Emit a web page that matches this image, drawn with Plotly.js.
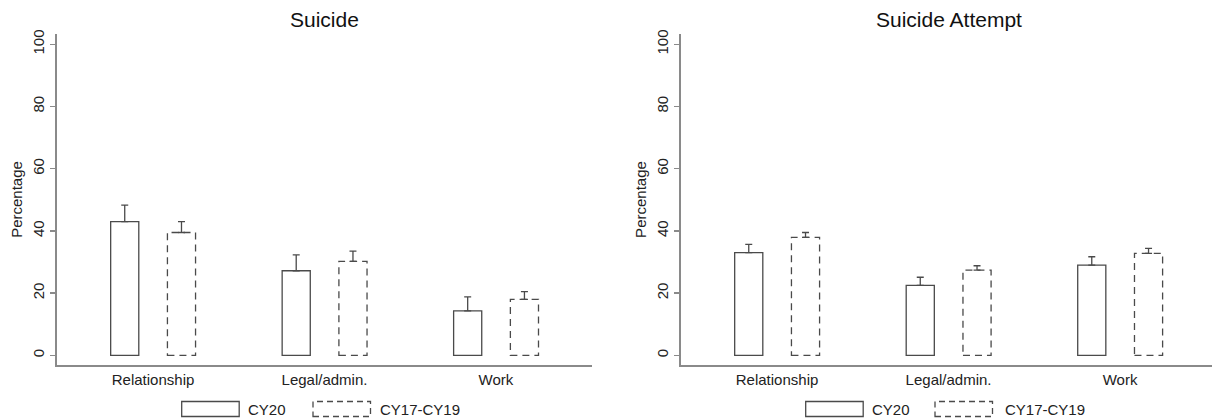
<!DOCTYPE html>
<html>
<head>
<meta charset="utf-8">
<script src="https://cdn.plot.ly/plotly-3.0.1.min.js"></script>
<style>
  html, body { margin: 0; padding: 0; background: #fff; }
  #chart { width: 1212px; height: 419px; }
</style>
</head>
<body>
<div id="chart"></div>
<script>
// ---- Data ----
const categories = ['Relationship', 'Legal/admin.', 'Work'];
const seriesNames = ['CY20', 'CY17-CY19'];
const panelTitles = ['Suicide', 'Suicide Attempt'];

const suicideCY20 = [43.0, 27.2, 14.3];
const suicideCY20Upper = [48.3, 32.3, 18.8];
const suicideCY1719 = [39.5, 30.2, 18.0];
const suicideCY1719Upper = [43.0, 33.5, 20.5];

const attemptCY20 = [33.0, 22.5, 29.0];
const attemptCY20Upper = [35.7, 25.1, 31.7];
const attemptCY1719 = [37.9, 27.4, 32.8];
const attemptCY1719Upper = [39.5, 28.8, 34.4];

const yTicks = [0, 20, 40, 60, 80, 100];

// ---- Styling ----
const FONT = 'Liberation Sans, Arial, sans-serif';
const OUTLINE = '#4a4a4a';
const AXIS = '#8a8a8a';
const BAR_W = 0.164;
const OFF_A = -0.247;
const OFF_B = 0.084;

function errs(vals, upper) { return upper.map((u, i) => u - vals[i]); }
function zeros(n) { return new Array(n).fill(0); }

function solidTrace(vals, upper, xa, ya) {
  return {
    type: 'bar', x: categories, y: vals, name: seriesNames[0],
    xaxis: xa, yaxis: ya, width: BAR_W, offset: OFF_A,
    marker: { color: 'rgba(255,255,255,0)', line: { color: OUTLINE, width: 1.3 } },
    error_y: { type: 'data', symmetric: false, array: errs(vals, upper), arrayminus: zeros(vals.length),
               color: OUTLINE, thickness: 1.3, width: 3.5 },
    showlegend: false, hoverinfo: 'x+y'
  };
}
function dashedTrace(vals, upper, xa, ya) {
  return {
    type: 'bar', x: categories, y: vals, name: seriesNames[1],
    xaxis: xa, yaxis: ya, width: BAR_W, offset: OFF_B,
    marker: { color: 'rgba(255,255,255,0)', line: { color: 'rgba(0,0,0,0)', width: 0 } },
    error_y: { type: 'data', symmetric: false, array: errs(vals, upper), arrayminus: zeros(vals.length),
               color: OUTLINE, thickness: 1.3, width: 3.5 },
    showlegend: false, hoverinfo: 'x+y'
  };
}

const data = [
  solidTrace(suicideCY20, suicideCY20Upper, 'x', 'y'),
  dashedTrace(suicideCY1719, suicideCY1719Upper, 'x', 'y'),
  solidTrace(attemptCY20, attemptCY20Upper, 'x2', 'y2'),
  dashedTrace(attemptCY1719, attemptCY1719Upper, 'x2', 'y2')
];

// dashed outlines for the CY17-CY19 bars, placed on the axes' own scales
const shapes = [];
function dashedOutlines(vals, xa, ya) {
  vals.forEach((v, i) => {
    shapes.push({ type: 'rect', xref: xa, yref: ya,
      x0: i + OFF_B, x1: i + OFF_B + BAR_W, y0: 0, y1: v,
      line: { color: OUTLINE, width: 1.3, dash: '7px,5px' }, fillcolor: 'rgba(0,0,0,0)', layer: 'above' });
  });
}
dashedOutlines(suicideCY1719, 'x', 'y');
dashedOutlines(attemptCY1719, 'x2', 'y2');

// custom legends (one under each panel)
const annotations = [];
function legendRow(solidX0, solidTextX, dashX0, dashTextX) {
  const W = 1212, H = 419;
  const y0 = 1 - 416.5 / H, y1 = 1 - 401.5 / H, yc = 1 - 409.5 / H;
  shapes.push({ type: 'rect', xref: 'paper', yref: 'paper', x0: solidX0 / W, x1: (solidX0 + 57.5) / W,
    y0: y0, y1: y1, line: { color: OUTLINE, width: 1.3 }, fillcolor: 'rgba(0,0,0,0)' });
  shapes.push({ type: 'rect', xref: 'paper', yref: 'paper', x0: dashX0 / W, x1: (dashX0 + 57.5) / W,
    y0: y0, y1: y1, line: { color: OUTLINE, width: 1.3, dash: '6px,4px' }, fillcolor: 'rgba(0,0,0,0)' });
  annotations.push({ xref: 'paper', yref: 'paper', x: solidTextX / W, y: yc, xanchor: 'left', yanchor: 'middle',
    text: seriesNames[0], showarrow: false, font: { family: FONT, size: 15, color: '#222' } });
  annotations.push({ xref: 'paper', yref: 'paper', x: dashTextX / W, y: yc, xanchor: 'left', yanchor: 'middle',
    text: seriesNames[1], showarrow: false, font: { family: FONT, size: 15, color: '#222' } });
}
legendRow(181.7, 246, 313, 378);
legendRow(805.7, 870, 935, 1003);

// panel titles
annotations.push({ xref: 'paper', yref: 'paper', x: 324.5 / 1212, y: 1 - 20 / 419, xanchor: 'center', yanchor: 'middle',
  text: panelTitles[0], showarrow: false, font: { family: FONT, size: 21, color: '#111' } });
annotations.push({ xref: 'paper', yref: 'paper', x: 948.5 / 1212, y: 1 - 20 / 419, xanchor: 'center', yanchor: 'middle',
  text: panelTitles[1], showarrow: false, font: { family: FONT, size: 21, color: '#111' } });

function xAxis(domain, range, anchor) {
  return {
    domain: domain, range: range, anchor: anchor, type: 'category',
    showline: true, linecolor: AXIS, linewidth: 2, ticks: '', showgrid: false, zeroline: false,
    tickfont: { family: FONT, size: 15, color: '#222' }, fixedrange: true, automargin: false
  };
}
function yAxis(domain, anchor) {
  return {
    domain: domain, range: [-3.1, 103.3], anchor: anchor,
    tickvals: yTicks, ticktext: yTicks.map(String), tickangle: -90,
    showline: true, linecolor: AXIS, linewidth: 2, ticks: 'outside', ticklen: 5, tickwidth: 1.3, tickcolor: AXIS,
    showgrid: false, zeroline: false,
    tickfont: { family: FONT, size: 15, color: '#222' },
    title: { text: 'Percentage', font: { family: FONT, size: 15, color: '#222' }, standoff: 4 },
    fixedrange: true, automargin: false
  };
}

const yDom = [1 - 365 / 419, 1 - 34 / 419];
const layout = {
  width: 1212, height: 419,
  margin: { l: 0, r: 0, t: 0, b: 0 },
  paper_bgcolor: '#fff', plot_bgcolor: '#fff',
  barmode: 'overlay', showlegend: false,
  xaxis: xAxis([57 / 1212, 592 / 1212], [-0.56, 2.56], 'y'),
  yaxis: yAxis(yDom, 'x'),
  xaxis2: xAxis([681 / 1212, 1], [-0.56, 2.536], 'y2'),
  yaxis2: yAxis(yDom, 'x2'),
  shapes: shapes,
  annotations: annotations,
  font: { family: FONT }
};

Plotly.newPlot('chart', data, layout, { displayModeBar: false, staticPlot: true });
</script>
</body>
</html>
